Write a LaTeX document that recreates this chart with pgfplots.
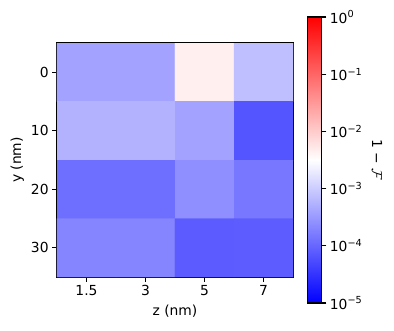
\documentclass[border=0pt]{standalone}
\usepackage{fontspec}
\setmainfont{DejaVu Sans}
\usepackage{pgfplots}
\usepackage{pgfplotstable}
\pgfplotsset{compat=1.18}

% infidelity per (z, y) cell
\pgfplotstableread{
x y v
0 0 4.0e-4
1 0 4.0e-4
2 0 4.6e-3
3 0 7.5e-4
0 10 5.6e-4
1 10 5.6e-4
2 10 4.0e-4
3 10 6.8e-5
0 20 1.23e-4
1 20 1.23e-4
2 20 2.5e-4
3 20 1.48e-4
0 30 2.0e-4
1 30 2.0e-4
2 30 7.9e-5
3 30 8.1e-5
}\infid

\begin{document}
\begin{tikzpicture}
\begin{axis}[
  name=hm,
  scale only axis, width=236bp, height=234bp,
  xmin=-0.5, xmax=3.5, ymin=-5, ymax=35, y dir=reverse,
  xtick={0,1,2,3}, xticklabels={1.5,3,5,7},
  ytick={0,10,20,30},
  tick pos=left,
  /pgf/number format/assume math mode=true,
  tick align=outside, major tick length=4.9bp,
  tick style={black, line width=1.1bp},
  axis line style={line width=1.1bp},
  ticklabel style={font=\fontsize{13.9}{16}\selectfont},
  label style={font=\fontsize{13.9}{16}\selectfont},
  xlabel={z (nm)}, ylabel={y (nm)},
  xlabel style={yshift=-2bp},
  colormap={bwr}{rgb255=(0,0,255) rgb255=(255,255,255) rgb255=(255,0,0)},
  point meta min=-5, point meta max=0,
  colorbar,
  colorbar/width=14bp,
  colorbar style={
    at={(parent axis.east)}, anchor=west, xshift=6bp,
    scale only axis, width=14bp, height=286bp,
    ytick={-5,-4,-3,-2,-1,0},
    yticklabels={10\textsuperscript{−5},10\textsuperscript{−4},10\textsuperscript{−3},10\textsuperscript{−2},10\textsuperscript{−1},10\textsuperscript{0}},
    ytick pos=right, yticklabel pos=right,
    tick align=outside, major tick length=4.9bp,
    tick style={black, line width=1.1bp},
    axis line style={line width=1.1bp},
    yticklabel style={font=\fontsize{13.9}{16}\selectfont},
    ylabel={1 − $\mathcal{F}$},
    ylabel shift=3bp,
    ylabel style={rotate=180, font=\fontsize{13.9}{16}\selectfont},
  },
]
\addplot[matrix plot*, mesh/cols=4, point meta=explicit]
  table[x=x, y=y, meta expr={ln(\thisrow{v})/ln(10)}] {\infid};
\end{axis}
\path (hm.south west) ++(-57bp,-54bp) rectangle ++(394bp,331bp);
\end{tikzpicture}
\end{document}
